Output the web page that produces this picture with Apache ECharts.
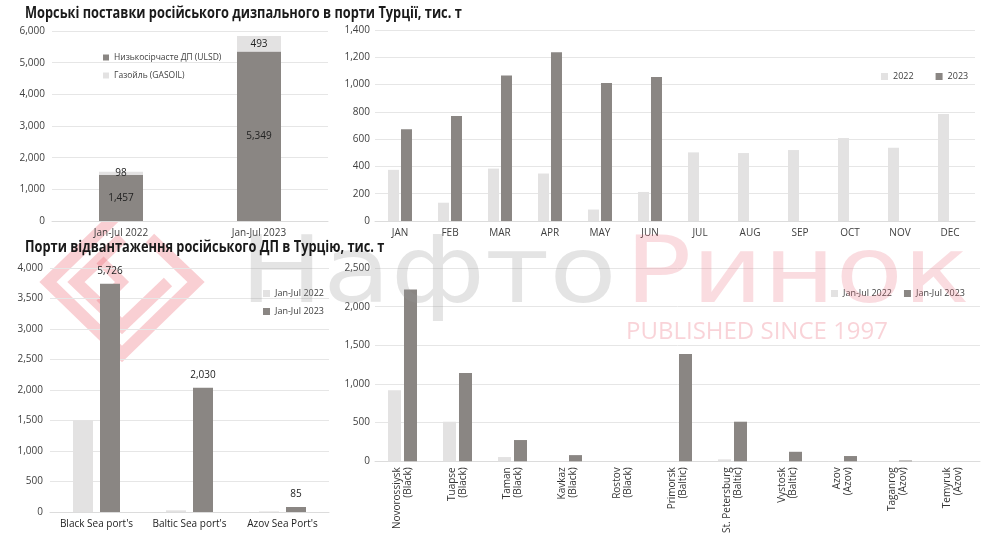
<!DOCTYPE html>
<html>
<head>
<meta charset="utf-8">
<script src="https://cdn.jsdelivr.net/npm/echarts@6/dist/echarts.min.js"></script>
<style>
  html, body { margin: 0; padding: 0; background: #fff; }
  #main { width: 1000px; height: 536px; }
</style>
</head>
<body>
<div id="main"></div>
<script>
// --- дані ---
var totalCats = ['Jan-Jul 2022', 'Jan-Jul 2023'];
var ulsd = [1457, 5349];
var gasoil = [98, 493];

var months = ['JAN', 'FEB', 'MAR', 'APR', 'MAY', 'JUN', 'JUL', 'AUG', 'SEP', 'OCT', 'NOV', 'DEC'];
var month2022 = [375, 134, 384, 348, 84, 213, 503, 498, 520, 608, 537, 785];
var month2023 = [672, 770, 1066, 1237, 1012, 1056, null, null, null, null, null, null];

var seas = ["Black Sea port's", "Baltic Sea port's", "Azov Sea Port's"];
var sea2022 = [1505, 27, 10];
var sea2023 = [3742, 2036, 82];
var sea2023Labels = ['5,726', '2,030', '85'];

var ports = ['Novorossiysk\n(Black)', 'Tuapse\n(Black)', 'Taman\n(Black)', 'Kavkaz\n(Black)', 'Rostov\n(Black)',
  'Primorsk\n(Baltic)', 'St. Petersburg\n(Baltic)', 'Vystosk\n(Baltic)', 'Azov\n(Azov)', 'Taganrog\n(Azov)', 'Temyruk\n(Azov)'];
var port2022 = [918, 512, 55, 3, 0, 0, 25, 0, 3, 0, 0];
var port2023 = [2221, 1142, 275, 80, 0, 1387, 512, 123, 68, 10, 0];

var title1 = 'Морські поставки російського дизпального в порти Турції, тис. т';
var title2 = 'Порти відвантаження російського ДП в Турцію, тис. т';

var LIGHT = '#e3e2e2';
var DARK = '#8a8683';
var FONT = '"Open Sans", "Noto Sans", sans-serif';
var PINK = 'rgba(236,96,110,0.3)';

var myChart = echarts.init(document.getElementById('main'));

function xAx(idx, data, extra) {
  var a = {
    type: 'category', gridIndex: idx, data: data,
    axisLine: { lineStyle: { color: '#dcdcdc' } },
    axisTick: { show: false },
    axisLabel: { color: '#404040', fontSize: 10, fontFamily: FONT, margin: 7, interval: 0 }
  };
  if (extra) Object.assign(a.axisLabel, extra);
  return a;
}
function yAx(idx, max, interval, margin) {
  return {
    type: 'value', gridIndex: idx, min: 0, max: max, interval: interval,
    axisLine: { show: false }, axisTick: { show: false },
    splitLine: { lineStyle: { color: '#e6e6e6' } },
    axisLabel: {
      color: '#404040', fontSize: 10, fontFamily: FONT, margin: margin,
      formatter: function (v) { return v.toLocaleString('en-US'); }
    }
  };
}
function titleText(text, top) {
  // заголовок вужчим накресленням, як в оригіналі
  return { type: 'text', left: 25, top: top, scaleX: 0.8, z: 110,
    style: { text: text, fontSize: 16, fontWeight: 'bold', fontFamily: FONT, fill: '#1a1a1a' } };
}
var legendBase = {
  icon: 'rect', itemWidth: 7, itemHeight: 7,
  textStyle: { color: '#404040', fontSize: 9, fontFamily: FONT }
};

var option = {
  animation: false,
  textStyle: { fontFamily: FONT },
  legend: [
    Object.assign({}, legendBase, { orient: 'vertical', left: 98, top: 48, itemGap: 9, itemWidth: 6, itemHeight: 6,
      textStyle: { color: '#404040', fontSize: 8.5, fontFamily: FONT },
      data: ['Низькосірчасте ДП (ULSD)', 'Газойль (GASOIL)'] }),
    Object.assign({}, legendBase, { left: 876, top: 67, itemGap: 22, data: ['2022', '2023'] }),
    Object.assign({}, legendBase, { orient: 'vertical', left: 258, top: 284, itemGap: 9,
      data: ['Jan-Jul 2022 ', 'Jan-Jul 2023 '] }),
    Object.assign({}, legendBase, { left: 826, top: 284, itemGap: 12, data: ['Jan-Jul 2022', 'Jan-Jul 2023'] })
  ],
  grid: [
    { left: 52, top: 31, width: 276, height: 190 },
    { left: 375, top: 30, width: 600, height: 191 },
    { left: 50, top: 268, width: 279, height: 244 },
    { left: 375, top: 268, width: 605, height: 197 }
  ],
  xAxis: [
    xAx(0, totalCats),
    xAx(1, months),
    xAx(2, seas, { color: '#222', fontSize: 10 }),
    xAx(3, ports, { rotate: 90, fontSize: 10, lineHeight: 11, margin: 6, color: '#333' })
  ],
  yAxis: [
    yAx(0, 6000, 1000, 7),
    yAx(1, 1400, 200, 5),
    yAx(2, 4000, 500, 7),
    yAx(3, 2500, 500, 5)
  ],
  series: [
    { name: 'Низькосірчасте ДП (ULSD)', type: 'bar', stack: 'total', xAxisIndex: 0, yAxisIndex: 0,
      barWidth: 44, data: ulsd, itemStyle: { color: DARK },
      label: { show: true, position: 'inside', color: '#222', fontSize: 10,
        formatter: function (p) { return p.value.toLocaleString('en-US'); } } },
    { name: 'Газойль (GASOIL)', type: 'bar', stack: 'total', xAxisIndex: 0, yAxisIndex: 0,
      barWidth: 44, data: gasoil, itemStyle: { color: LIGHT },
      label: { show: true, position: 'inside', color: '#222', fontSize: 10 } },

    { name: '2022', type: 'bar', xAxisIndex: 1, yAxisIndex: 1, barWidth: 11, barGap: '18%',
      data: month2022, itemStyle: { color: LIGHT } },
    { name: '2023', type: 'bar', xAxisIndex: 1, yAxisIndex: 1, barWidth: 11, barGap: '18%',
      data: month2023, itemStyle: { color: DARK } },

    { name: 'Jan-Jul 2022 ', type: 'bar', xAxisIndex: 2, yAxisIndex: 2, barWidth: 20, barGap: '35%',
      data: sea2022, itemStyle: { color: LIGHT } },
    { name: 'Jan-Jul 2023 ', type: 'bar', xAxisIndex: 2, yAxisIndex: 2, barWidth: 20, barGap: '35%',
      data: sea2023, itemStyle: { color: DARK },
      label: { show: true, position: 'top', distance: 8, color: '#222', fontSize: 10,
        formatter: function (p) { return sea2023Labels[p.dataIndex]; } } },

    { name: 'Jan-Jul 2022', type: 'bar', xAxisIndex: 3, yAxisIndex: 3, barWidth: 13, barGap: '23%',
      data: port2022, itemStyle: { color: LIGHT } },
    { name: 'Jan-Jul 2023', type: 'bar', xAxisIndex: 3, yAxisIndex: 3, barWidth: 13, barGap: '23%',
      data: port2023, itemStyle: { color: DARK } }
  ],
  graphic: [
    titleText(title1, 5),
    titleText(title2, 239),
    // водяний знак: логотип
    { type: 'group', silent: true, z: 100, children: [
      { type: 'polyline', shape: { points: [[122, 210], [48, 282], [122, 354], [196, 282], [150, 238]] },
        style: { stroke: PINK, lineWidth: 12, fill: null } },
      { type: 'polyline', shape: { points: [[122, 238], [76, 282], [122, 326], [168, 282]] },
        style: { stroke: PINK, lineWidth: 12, fill: null } },
      { type: 'polyline', shape: { points: [[100, 260], [122, 282], [100, 304]] },
        style: { stroke: PINK, lineWidth: 10, fill: null } }
    ] },
    // водяний знак: текст
    { type: 'text', left: 240, top: 232, silent: true, z: 100, scaleX: 1.2,
      style: { text: 'Нафто', fontSize: 92, fontFamily: '"DejaVu Sans", sans-serif', fill: 'rgba(150,150,150,0.26)' } },
    { type: 'text', left: 625, top: 232, silent: true, z: 100, scaleX: 1.2,
      style: { text: 'Ринок', fontSize: 92, fontFamily: '"DejaVu Sans", sans-serif', fill: 'rgba(235,110,125,0.24)' } },
    { type: 'text', left: 626, top: 320, silent: true, z: 100,
      style: { text: 'PUBLISHED SINCE 1997', fontSize: 24, fontFamily: '"Open Sans", sans-serif',
        fill: 'rgba(235,110,125,0.3)' } }
  ]
};

if (option && typeof option === 'object') {
  myChart.setOption(option, true);
}
window.onresize = function () {
  myChart.resize();
};
</script>
</body>
</html>
